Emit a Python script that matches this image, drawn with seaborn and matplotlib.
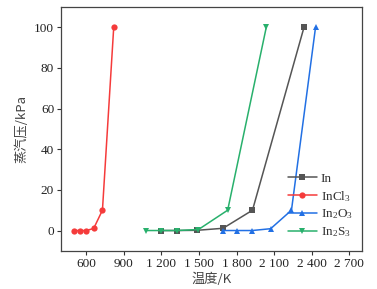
import matplotlib
matplotlib.use("Agg")
import matplotlib.pyplot as plt
import seaborn as sns
import pandas as pd

series_names = ["In", "InCl$_3$", "In$_2$O$_3$", "In$_2$S$_3$"]
in_T = [1196, 1325, 1483, 1692, 1927, 2338]
in_P = [0.001, 0.01, 0.1, 1.1, 10, 100]
incl3_T = [506, 552, 600, 660, 730, 820]
incl3_P = [0, 0, 0, 1, 10, 100]
in2o3_T = [1690, 1805, 1925, 2072, 2238, 2430]
in2o3_P = [0, 0, 0, 0.9, 10, 100]
in2s3_T = [1076, 1196, 1325, 1496, 1729, 2037]
in2s3_P = [0, 0, 0, 0.5, 10, 100]

x_ticks = [600, 900, 1200, 1500, 1800, 2100, 2400, 2700]
x_ticklabels = ["600", "900", "1 200", "1 500", "1 800", "2 100", "2 400", "2 700"]
y_ticks = [0, 20, 40, 60, 80, 100]

colors = ["#555555", "#f53b3b", "#2270e4", "#28b06c"]
markers = ["s", "o", "^", "v"]

rows = []
for name, T, P in zip(series_names, [in_T, incl3_T, in2o3_T, in2s3_T],
                      [in_P, incl3_P, in2o3_P, in2s3_P]):
    for t, p in zip(T, P):
        rows.append({"T": t, "P": p, "s": name})
df = pd.DataFrame(rows)

sns.set_theme(style="ticks")
serif = ["Liberation Serif", "Noto Sans CJK SC"]
plt.rcParams["font.family"] = serif
plt.rcParams["mathtext.fontset"] = "custom"
plt.rcParams["mathtext.rm"] = "Liberation Serif"
plt.rcParams["mathtext.it"] = "Liberation Serif:italic"
plt.rcParams["mathtext.default"] = "rm"

fig, ax = plt.subplots(figsize=(3.77, 2.89), dpi=100)
fig.subplots_adjust(left=0.162, right=0.960, top=0.976, bottom=0.132)

sns.lineplot(data=df, x="T", y="P", hue="s", style="s",
             hue_order=series_names, style_order=series_names,
             palette=dict(zip(series_names, colors)),
             markers=dict(zip(series_names, markers)),
             dashes=False, sort=False, estimator=None,
             linewidth=1.1, markersize=4.5, markeredgewidth=0, ax=ax)

ax.set_xlim(400, 2800)
ax.set_ylim(-10, 110)
ax.set_xticks(x_ticks)
ax.set_xticklabels(x_ticklabels)
ax.set_yticks(y_ticks)
ax.tick_params(axis="both", labelsize=9.5, direction="out", length=3,
               width=0.8, colors="#333333", labelcolor="#222222", pad=2)
for sp in ax.spines.values():
    sp.set_visible(True)
    sp.set_color("#444444")
    sp.set_linewidth(0.9)

ax.set_xlabel("温度/K", fontsize=9.5, color="#444444",
              family=["Noto Sans CJK SC", "Liberation Serif"], labelpad=2)
ax.set_ylabel("蒸汽压/kPa", fontsize=9.5, color="#444444",
              family=["Noto Sans CJK SC", "Liberation Serif"], labelpad=4)

leg = ax.legend(loc="lower right", frameon=False, fontsize=9.5,
                handlelength=2.2, handletextpad=0.3, labelspacing=0.3,
                borderaxespad=0.3, bbox_to_anchor=(1.0, 0.01))
for t in leg.get_texts():
    t.set_color("#333333")

fig.savefig("out.png", dpi=100, facecolor="white")
